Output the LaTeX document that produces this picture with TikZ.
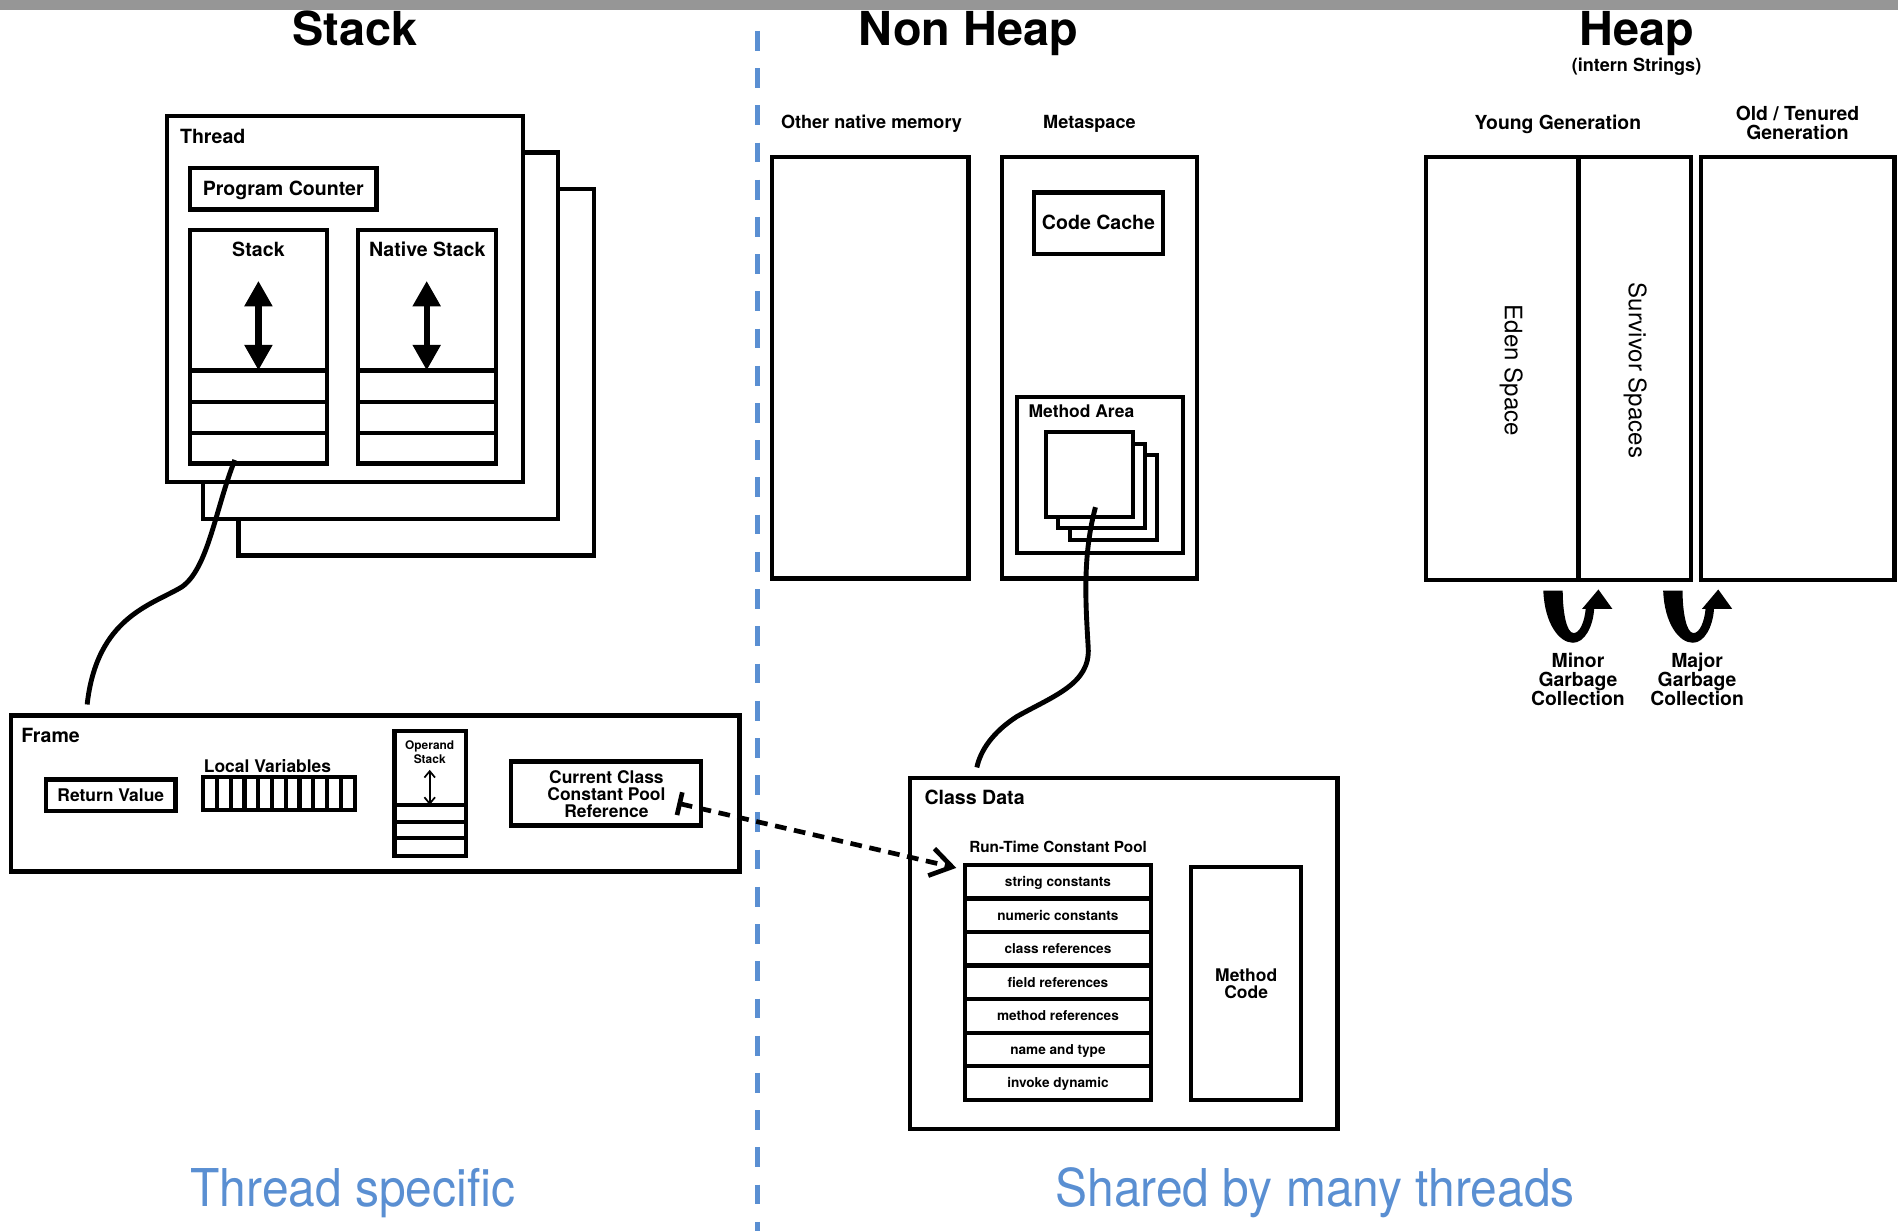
\documentclass[tikz,border=0pt]{standalone}
\usepackage{fontspec}
\setmainfont{TeX Gyre Heros}
\newfontfamily\narrowfont[FakeStretch=0.92]{TeX Gyre Heros}
\usepackage{tikz}
\usetikzlibrary{arrows.meta}
\definecolor{sharedblue}{RGB}{90,143,210}
\definecolor{topbar}{RGB}{150,150,150}
\newcommand{\fsz}[2]{\fontsize{#1}{#2}\selectfont}

\begin{document}
\begin{tikzpicture}[x=0.02cm, y=-0.02cm, line width=2pt,
  box/.style={draw=black, line width=2pt},
  title/.style={inner sep=0pt, anchor=base, font=\bfseries\fsz{22}{24}},
  lbl/.style={inner sep=0pt, font=\bfseries\fsz{9.2}{9}},
  small/.style={inner sep=0pt, font=\bfseries\fsz{8.2}{7.9}},
  rowtxt/.style={inner sep=0pt, anchor=base, font=\bfseries\fsz{6.4}{7}},
  gclbl/.style={inner sep=0pt, align=center, font=\bfseries\fsz{9.1}{8.9}},
  bluetxt/.style={inner sep=0pt, anchor=base, text=sharedblue, font=\narrowfont\fsz{24.5}{26}},
  wire/.style={line width=2.3pt},
  bigarrow/.style={line width=3pt, {Triangle[width=12.5pt,length=12pt]}-{Triangle[width=12.5pt,length=12pt]}},
  thinarrow/.style={line width=0.8pt, {Straight Barb[length=3pt,width=5pt]}-{Straight Barb[length=3pt,width=5pt]}},
  refarrow/.style={line width=2.2pt, dash pattern=on 5.5pt off 3.6pt, {Bar[width=11pt]}-{Straight Barb[length=10pt,width=13pt]}}]
\useasboundingbox (0,0) rectangle (1568,1017);
\fill[topbar] (0,0) rectangle (1568,8);

\node[title] (stacktitle) at (293,37.5) {Stack};
\node[title] (nonheaptitle) at (800,38) {Non Heap};
\node[title] (heaptitle) at (1352,38) {Heap};
\node[inner sep=0pt, anchor=base, font=\bfseries\fsz{8.5}{9}] (internlbl) at (1352,59) {(intern Strings)};

\coordinate (divtop) at (626,25.5);
\coordinate (divbot) at (626,1017);
\draw[sharedblue, line width=2.3pt, dash pattern=on 9.3pt off 8.2pt] (divtop) -- (divbot);

% stack side
\draw[box, fill=white] (197,156) rectangle (491,459);
\draw[box, fill=white] (168,126) rectangle (461,429);
\draw[box, fill=white] (138,96) rectangle (432,398);
\node[lbl, anchor=base west] (threadlbl) at (147,118.9) {Thread};
\draw[box] (157,139) rectangle (311,173);
\node[lbl, anchor=base] (pclbl) at (234,161.9) {Program Counter};
\draw[box] (157,190) rectangle (270,383);
\draw[box] (157,306) -- (270,306) (157,332) -- (270,332) (157,358) -- (270,358);
\node[lbl, anchor=base] (stacklbl) at (213.5,212) {Stack};
\coordinate (stacktop) at (213.5,232);
\coordinate (stackbot) at (213.5,306);
\draw[bigarrow] (stacktop) -- (stackbot);
\draw[box] (296,190) rectangle (410,383);
\draw[box] (296,306) -- (410,306) (296,332) -- (410,332) (296,358) -- (410,358);
\node[lbl, anchor=base] (nativelbl) at (353,212) {Native Stack};
\coordinate (nativetop) at (352.5,232);
\coordinate (nativebot) at (352.5,306);
\draw[bigarrow] (nativetop) -- (nativebot);

\coordinate (stackend) at (194,380);
\coordinate (framein) at (72,582);
\draw[wire] (stackend) .. controls (178,420) and (172,470) .. (150,485) .. controls (125,500) and (80,510) .. (framein);

\draw[box] (9,591) rectangle (611,720);
\node[lbl, anchor=base west] (framelbl) at (16,613) {Frame};
\draw[box] (38,644) rectangle (145,670);
\node[small, anchor=base] (retlbl) at (91.5,662) {Return Value};
\node[small, anchor=base] (locallbl) at (221,638.2) {Local Variables};
\draw[box] (168,642) rectangle (293,669);
\foreach \i in {1,...,10}
  \draw[box] ({168+\i*11.36},642) -- ({168+\i*11.36},669);
\draw[box] (326,604) rectangle (385,707);
\draw[box] (326,665) -- (385,665) (326,679) -- (385,679) (326,692.5) -- (385,692.5);
\node[inner sep=0pt, align=center, font=\bfseries\fsz{5.6}{5.1}] (operandlbl) at (355,621.5) {Operand\\Stack};
\coordinate (optop) at (355,636);
\coordinate (opbot) at (355,665);
\draw[thinarrow] (optop) -- (opbot);
\draw[box] (422,629) rectangle (579,682);
\node[small, align=center] (cpreflbl) at (501,656) {Current Class\\Constant Pool\\Reference};

% non heap
\node[inner sep=0pt, anchor=base, font=\bfseries\fsz{8.5}{9}] (othermemlbl) at (720,106.4) {Other native memory};
\node[inner sep=0pt, anchor=base, font=\bfseries\fsz{8.5}{9}] (metalbl) at (900,106.4) {Metaspace};
\draw[box] (638,130) rectangle (800,478);
\draw[box] (828,130) rectangle (989,478);
\draw[box] (854,159) rectangle (961,210);
\node[lbl, anchor=base] (codecachelbl) at (907.5,189.8) {Code Cache};
\draw[box] (840,328) rectangle (977,457);
\node[small, anchor=base west] (methodarealbl) at (848,345) {Method Area};
\draw[box, fill=white] (884,376) rectangle (956,446);
\draw[box, fill=white] (874,367) rectangle (946,436);
\draw[box, fill=white] (864,357) rectangle (936,427);

\coordinate (methodend) at (905,419);
\coordinate (classin) at (807,634);
\draw[wire] (methodend) .. controls (894,460) and (897,500) .. (899,535) .. controls (901,565) and (870,575) .. (840,592) .. controls (820,605) and (810,620) .. (classin);

\draw[box] (752,643) rectangle (1105,933);
\node[lbl, anchor=base west] (classdatalbl) at (762,664.8) {Class Data};
\node[inner sep=0pt, anchor=base west, font=\bfseries\fsz{7.2}{8}] (rtcplbl) at (799,704) {Run-Time Constant Pool};
\foreach \txt [count=\k from 0] in {string constants, numeric constants, class references, field references, method references, name and type, invoke dynamic} {
  \draw[box] (797,{714.6+27.7*\k}) rectangle (951,{742.3+27.7*\k});
  \node[rowtxt] (pool\k) at (874,{732.5+27.7*\k}) {\txt};
}
\draw[box] (984,716) rectangle (1075,909);
\node[small, align=center] (methodcodelbl) at (1029.5,813) {Method\\Code};

\coordinate (cpref) at (559.6,663.5);
\coordinate (rtcpin) at (790,717);
\draw[refarrow] (cpref) -- (rtcpin);

% heap
\node[inner sep=0pt, anchor=base, font=\bfseries\fsz{9.1}{9}] (younglbl) at (1287,106.8) {Young Generation};
\node[gclbl] (oldlbl) at (1485,101.5) {Old / Tenured\\Generation};
\draw[box] (1178,130) rectangle (1397,479);
\draw[box] (1304,130) -- (1304,479);
\draw[box] (1405,130) rectangle (1565,479);
\node[inner sep=0pt, rotate=-90, font=\fsz{11.3}{12}] (edenlbl) at (1248.5,306) {Eden Space};
\node[inner sep=0pt, rotate=-90, font=\fsz{11.3}{12}] (survivorlbl) at (1351,306) {Survivor Spaces};

\fill (1275,488) .. controls (1276,515) and (1288,531) .. (1299.5,531) .. controls (1309,531) and (1316,518) .. (1317,503) -- (1332,503) -- (1320.5,487) -- (1307,503) -- (1310,503) .. controls (1309,514) and (1305,523) .. (1300,523) .. controls (1294,523) and (1291,505) .. (1291,488) -- cycle;
\begin{scope}[shift={(99,0)}]
\fill (1275,488) .. controls (1276,515) and (1288,531) .. (1299.5,531) .. controls (1309,531) and (1316,518) .. (1317,503) -- (1332,503) -- (1320.5,487) -- (1307,503) -- (1310,503) .. controls (1309,514) and (1305,523) .. (1300,523) .. controls (1294,523) and (1291,505) .. (1291,488) -- cycle;
\end{scope}
\node[gclbl] (minorlbl) at (1303.6,561.5) {Minor\\Garbage\\Collection};
\node[gclbl] (majorlbl) at (1402,561.5) {Major\\Garbage\\Collection};

\node[bluetxt] (threadspeclbl) at (291.5,997) {Thread specific};
\node[bluetxt] (sharedlbl) at (1086.5,997) {Shared by many threads};
\end{tikzpicture}
\end{document}
